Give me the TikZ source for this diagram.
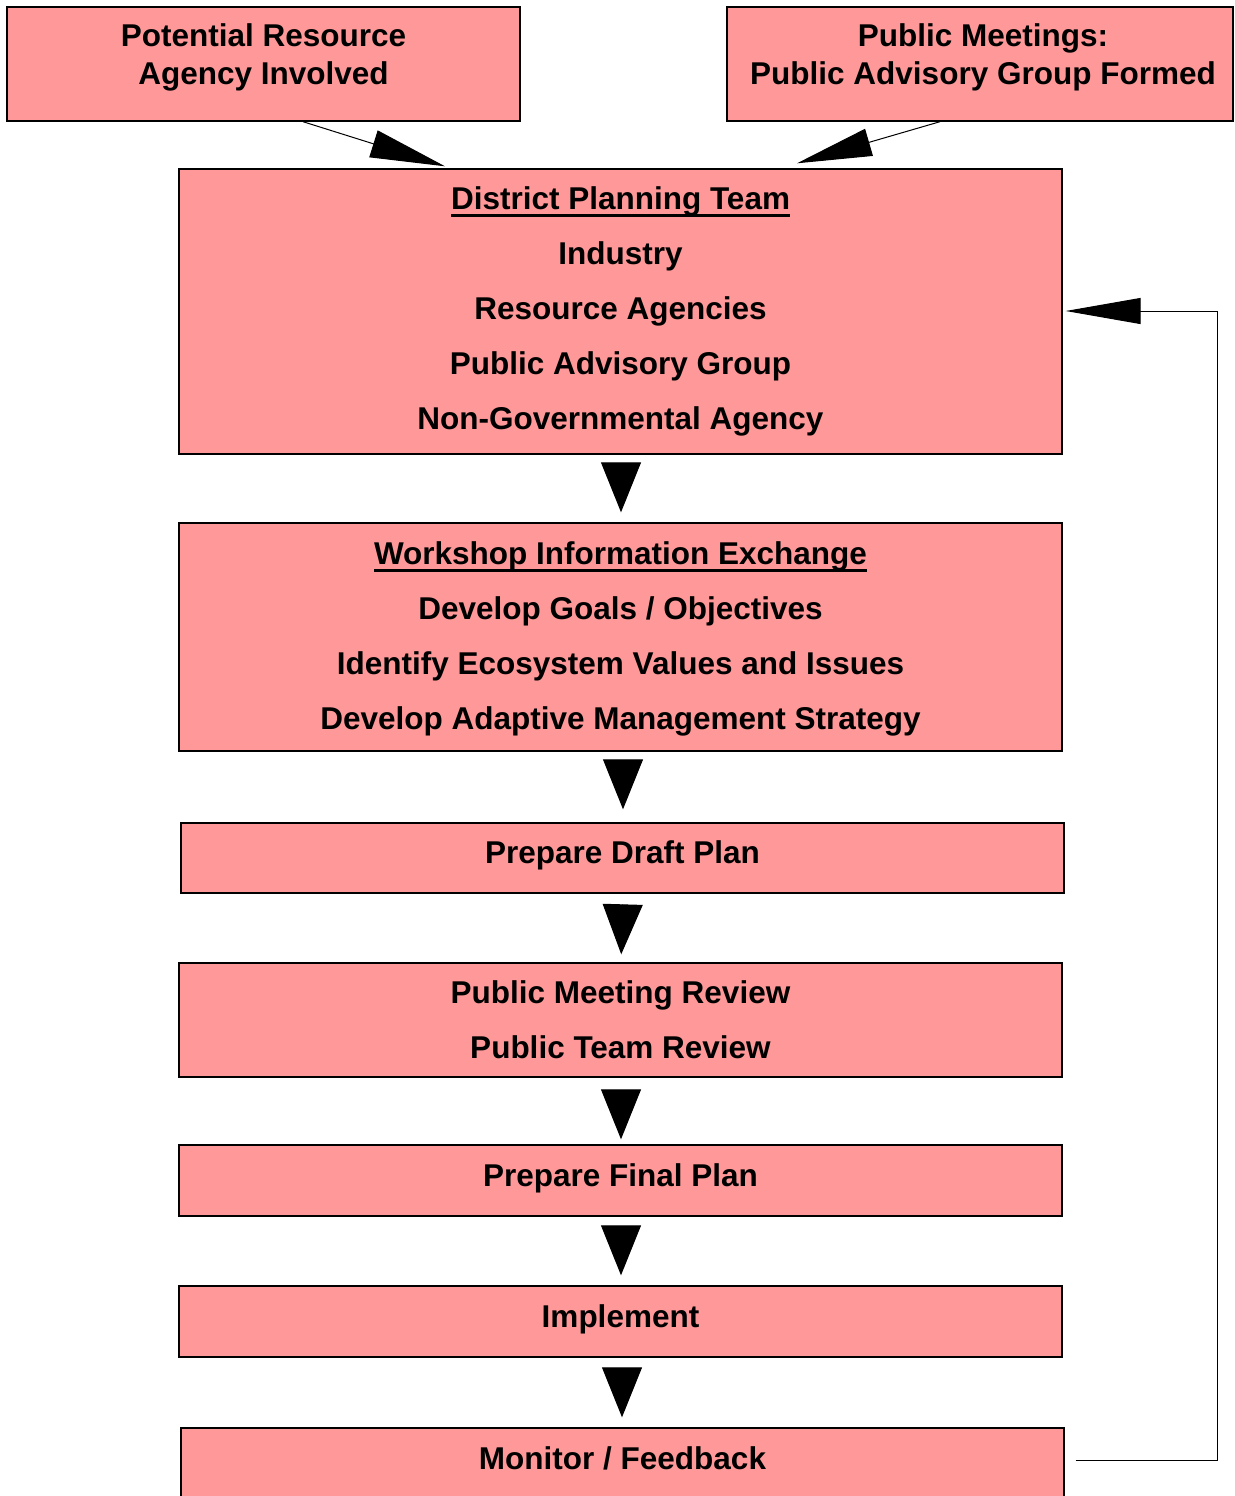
\documentclass[tikz,border=0pt]{standalone}
\usepackage{fontspec}
\setmainfont{Liberation Sans}
\usetikzlibrary{arrows.meta,calc}
\definecolor{boxpink}{HTML}{FF9999}
\newcommand\myul[1]{\setbox0\hbox{#1}\rlap{\rule[-8pt]{\wd0}{3.5pt}}\box0}
\begin{document}
\begin{tikzpicture}[x=1pt,y=-1pt,
  box/.style={draw=black,line width=1.4pt,fill=boxpink,rectangle,inner sep=0pt},
  txt/.style={align=center,font=\fontsize{31.5}{55}\selectfont\bfseries,inner sep=0pt},
  toptxt/.style={align=center,font=\fontsize{31.5}{38}\selectfont\bfseries,inner sep=0pt},
  downarrow/.style={line width=1pt,-{Triangle[length=50pt,width=40pt]}},
  slantarrow/.style={line width=1pt,-{Triangle[length=75pt,width=28pt]}},
  backarrow/.style={line width=1pt,-{Triangle[length=75pt,width=26pt]}}]
\useasboundingbox (0,0) rectangle (1234,1496);
% top boxes
\node[box,minimum width=513pt,minimum height=114pt] (A) at (263.5,64) {};
\node[txt,toptxt] (At) at (263.5,57) {Potential Resource\\Agency Involved};
\node[box,minimum width=506pt,minimum height=114pt] (B) at (980,64) {};
\node[txt,toptxt] (Bt) at (983,57) {Public Meetings:\\Public Advisory Group Formed};
% main column
\node[box,minimum width=883pt,minimum height=285pt] (C) at (620.5,311.5) {};
\node[txt] (Ct) at (620.5,311) {\myul{District Planning Team}\\Industry\\Resource Agencies\\Public Advisory Group\\Non-Governmental Agency};
\node[box,minimum width=883pt,minimum height=228pt] (D) at (620.5,637) {};
\node[txt] (Dt) at (620.5,638.5) {\myul{Workshop Information Exchange}\\Develop Goals / Objectives\\Identify Ecosystem Values and Issues\\Develop Adaptive Management Strategy};
\node[box,minimum width=883pt,minimum height=70pt] (E) at (622.5,858) {};
\node[txt] (Et) at (622.5,855.5) {Prepare Draft Plan};
\node[box,minimum width=883pt,minimum height=114pt] (F) at (620.5,1020) {};
\node[txt] (Ft) at (620.5,1020) {Public Meeting Review\\Public Team Review};
\node[box,minimum width=883pt,minimum height=71pt] (G) at (620.5,1180.5) {};
\node[txt] (Gt) at (620.5,1178.5) {Prepare Final Plan};
\node[box,minimum width=883pt,minimum height=71pt] (H) at (620.5,1321.5) {};
\node[txt] (Ht) at (620.5,1319.5) {Implement};
\node[box,minimum width=883pt,minimum height=140pt] (I) at (622.5,1498) {};
\node[txt] (It) at (622.5,1458.5) {Monitor / Feedback};
% connectors
\draw[slantarrow] ([xshift=39.5pt]A.south) -- ([xshift=-175.5pt,yshift=2pt]C.north);
\draw[slantarrow] ([xshift=-40pt]B.south) -- ([xshift=176.5pt,yshift=5pt]C.north);
\draw[downarrow,shorten <=9pt,shorten >=10pt] ([xshift=0.5pt]C.south) -- ([xshift=0.5pt]D.north);
\draw[downarrow,shorten <=9pt,shorten >=13pt] ([xshift=2.5pt]D.south) -- ([xshift=0.5pt]E.north);
\draw[downarrow,shorten <=12pt,shorten >=8pt] ([xshift=0.5pt]E.south) -- ([xshift=0.5pt]F.north);
\draw[downarrow,shorten <=13pt,shorten >=5pt] ([xshift=0.5pt]F.south) -- ([xshift=0.5pt]G.north);
\draw[downarrow,shorten <=12pt,shorten >=10pt] ([xshift=0.5pt]G.south) -- ([xshift=0.5pt]H.north);
\draw[downarrow,shorten <=11pt,shorten >=10pt] ([xshift=1.5pt]H.south) -- ([xshift=-0.5pt]I.north);
\draw[backarrow] ([xshift=11pt,yshift=-33pt]I.north east) -- ++(142pt,0) |- ([xshift=3pt,yshift=0.5pt]C.east);
\end{tikzpicture}
\end{document}
